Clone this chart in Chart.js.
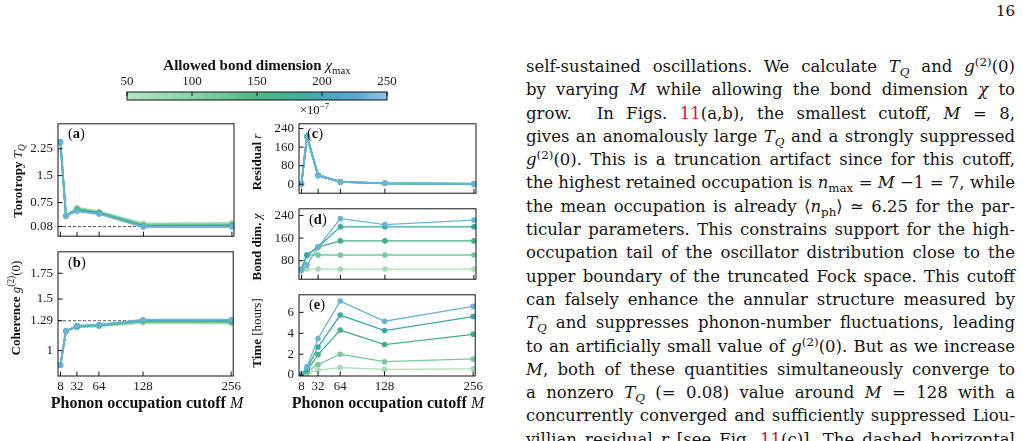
<!DOCTYPE html>
<html>
<head>
<meta charset="utf-8">
<script src="https://cdn.jsdelivr.net/npm/chart.js@4.4.1/dist/chart.umd.min.js"></script>
<style>
html, body { margin: 0; padding: 0; background: #fff; }
body { width: 1023px; height: 441px; position: relative; overflow: hidden;
       font-family: "Liberation Serif", serif; color: #111; }
canvas { position: absolute; }
.lab { position: absolute; white-space: nowrap; line-height: 1; }
.rot { position: absolute; white-space: nowrap; line-height: 1; font-size: 13px;
       transform: translate(-50%, -50%) rotate(-90deg); }
.xt { position: absolute; white-space: nowrap; line-height: 1; font-size: 16px;
      transform: translate(-50%, -50%); }
sub, sup { font-size: 72%; line-height: 0; }
#text { position: absolute; left: 526px; top: 55px; width: 489px;
        font-family: "DejaVu Serif", serif; font-size: 16.5px; color: #141414; }
#text div { height: 23.3px; line-height: 23.3px; white-space: nowrap; }
#text a { color: #c51a4a; text-decoration: none; }
</style>
</head>
<body>

<div class="lab" style="right:8px; top:4px; font-size:15px; font-family:'DejaVu Serif', serif;">16</div>

<canvas id="cbar"></canvas>
<canvas id="pa"></canvas>
<canvas id="pb"></canvas>
<canvas id="pc"></canvas>
<canvas id="pd"></canvas>
<canvas id="pe"></canvas>

<div class="xt" style="left:257px; top:65px; font-size:15px;"><b>Allowed bond dimension</b> <i>χ</i><sub>max</sub></div>
<div class="lab" style="left:300px; top:104px; font-size:12.5px;">×10<sup>−7</sup></div>

<div class="lab" style="left:68px; top:126px; font-size:14.5px;">(<b>a</b>)</div>
<div class="lab" style="left:68px; top:255px; font-size:14.5px;">(<b>b</b>)</div>
<div class="lab" style="left:307px; top:126px; font-size:14.5px;">(<b>c</b>)</div>
<div class="lab" style="left:309px; top:212px; font-size:14.5px;">(<b>d</b>)</div>
<div class="lab" style="left:309px; top:297px; font-size:14.5px;">(<b>e</b>)</div>

<div class="rot" style="left:17px; top:181px;"><b>Torotropy</b> <i>T<sub>Q</sub></i></div>
<div class="rot" style="left:15px; top:308px;"><b>Coherence</b> <i>g</i><sup>(2)</sup>(0)</div>
<div class="rot" style="left:256px; top:162px;"><b>Residual</b> <i>r</i></div>
<div class="rot" style="left:256px; top:247px;"><b>Bond dim.</b> <i>χ</i></div>
<div class="rot" style="left:256px; top:333px;"><b>Time</b> [hours]</div>

<div class="xt" style="left:147px; top:403px;"><b>Phonon occupation cutoff</b> <i>M</i></div>
<div class="xt" style="left:388px; top:403px;"><b>Phonon occupation cutoff</b> <i>M</i></div>

<div id="text">
<div>self-sustained oscillations. We calculate <i>T<sub>Q</sub></i> and <i>g</i><sup>(2)</sup>(0)</div>
<div>by varying <i>M</i> while allowing the bond dimension <i>χ</i> to</div>
<div>grow. &nbsp;In Figs. <a>11</a>(a,b), the smallest cutoff, <i>M</i> = 8,</div>
<div>gives an anomalously large <i>T<sub>Q</sub></i> and a strongly suppressed</div>
<div><i>g</i><sup>(2)</sup>(0). This is a truncation artifact since for this cutoff,</div>
<div>the highest retained occupation is <i>n</i><sub>max</sub> = <i>M</i> −1 = 7, while</div>
<div>the mean occupation is already ⟨<i>n</i><sub>ph</sub>⟩ ≃ 6.25 for the par-</div>
<div>ticular parameters. This constrains support for the high-</div>
<div>occupation tail of the oscillator distribution close to the</div>
<div>upper boundary of the truncated Fock space. This cutoff</div>
<div>can falsely enhance the annular structure measured by</div>
<div><i>T<sub>Q</sub></i> and suppresses phonon-number fluctuations, leading</div>
<div>to an artificially small value of <i>g</i><sup>(2)</sup>(0). But as we increase</div>
<div><i>M</i>, both of these quantities simultaneously converge to</div>
<div>a nonzero <i>T<sub>Q</sub></i> (= 0.08) value around <i>M</i> = 128 with a</div>
<div>concurrently converged and sufficiently suppressed Liou-</div>
<div>villian residual <i>r</i> [see Fig. <a>11</a>(c)]. The dashed horizontal</div>
</div>

<script>
// data; rows are chi_max = 50, 100, 150, 200, 250
const M_VALUES = [8, 16, 32, 64, 128, 256];
const M_TICKS = [8, 32, 64, 128, 256];
const CHI_MAX = [50, 100, 150, 200, 250];

const TQ_VALUES = [
    [2.44, 0.38, 0.61, 0.50, 0.17, 0.18],
    [2.44, 0.38, 0.58, 0.48, 0.13, 0.14],
    [2.44, 0.38, 0.55, 0.46, 0.10, 0.11],
    [2.44, 0.38, 0.52, 0.44, 0.08, 0.08],
    [2.44, 0.38, 0.51, 0.43, 0.07, 0.07],
];
const TQ_TICKS = [0.08, 0.75, 1.5, 2.25];
const TQ_CONVERGED = 0.08;

const G2_VALUES = [
    [0.86, 1.19, 1.225, 1.235, 1.27, 1.265],
    [0.86, 1.19, 1.23, 1.24, 1.28, 1.275],
    [0.86, 1.19, 1.235, 1.245, 1.29, 1.285],
    [0.86, 1.19, 1.24, 1.25, 1.295, 1.295],
    [0.86, 1.19, 1.24, 1.25, 1.30, 1.30],
];
const G2_TICKS = [1, 1.29, 1.5, 1.75];
const G2_CONVERGED = 1.29;

// residual in units of 1e-7
const RES_VALUES = [
    [2, 205, 40, 11, 5, 2],
    [2, 206, 39, 10, 4, 2],
    [2, 206, 38, 10, 4, 1],
    [2, 207, 38, 10, 4, 1],
    [2, 207, 38, 10, 4, 1],
];
const RES_TICKS = [0, 80, 160, 240];

const BOND_VALUES = [
    [48, 50, 50, 50, 50, 50],
    [48, 100, 100, 100, 100, 100],
    [48, 100, 128, 150, 150, 150],
    [48, 100, 128, 200, 200, 200],
    [45, 65, 128, 229, 208, 224],
];
const BOND_TICKS = [80, 160, 240];

const TIME_VALUES = [
    [0.03, 0.15, 0.48, 0.71, 0.54, 0.60],
    [0.04, 0.30, 1.01, 1.99, 1.28, 1.54],
    [0.05, 0.45, 1.96, 4.31, 2.92, 3.90],
    [0.08, 0.60, 2.68, 5.74, 4.26, 5.60],
    [0.10, 0.78, 3.50, 7.08, 5.15, 6.58],
];
const TIME_TICKS = [0, 2, 4, 6];

const SERIES_COLORS = ["#a6dcb9", "#74ca99", "#41b181", "#39a7ae", "#68b3db"];
const CMAP_STOPS = [
    [0, "#b4e4c6"], [0.25, "#88d3a7"], [0.5, "#4fb986"], [0.62, "#43b198"],
    [0.75, "#44a9b8"], [0.88, "#58a8d6"], [1, "#90c6e3"],
];

const FONT = { family: "Liberation Serif", size: 13 };
const TICK_LEN = 4.5;
const YW = 40, PAD_T = 8, PAD_R = 10, XH = 24;

// justify each text line by spreading its spaces
const TEXT_WIDTH = 489;
document.querySelectorAll("#text div").forEach(div => {
    const span = document.createElement("span");
    span.innerHTML = div.innerHTML;
    div.innerHTML = "";
    div.appendChild(span);
    const w = span.getBoundingClientRect().width;
    const gaps = (span.textContent.match(/[ \u00a0]/g) || []).length;
    if (gaps) div.style.wordSpacing = ((TEXT_WIDTH - w) / gaps) + "px";
});

const axesFrame = {
    id: "axesFrame",
    beforeDatasetsDraw(chart, args, o) {
        if (o.ref === undefined) return;
        const { ctx, chartArea: a } = chart;
        const y = chart.scales.y.getPixelForValue(o.ref);
        ctx.save();
        ctx.strokeStyle = "#333";
        ctx.lineWidth = 0.8;
        ctx.setLineDash([3, 2]);
        ctx.beginPath();
        ctx.moveTo(a.left, y);
        ctx.lineTo(a.right, y);
        ctx.stroke();
        ctx.restore();
    },
    afterDatasetsDraw(chart, args, o) {
        if (!o.xTicks) return;
        const { ctx, chartArea: a } = chart;
        ctx.save();
        ctx.strokeStyle = "#111";
        ctx.lineWidth = 1;
        ctx.strokeRect(a.left, a.top, a.right - a.left, a.bottom - a.top);
        ctx.beginPath();
        o.xTicks.forEach(v => {
            const x = chart.scales.x.getPixelForValue(v);
            ctx.moveTo(x, a.bottom);
            ctx.lineTo(x, a.bottom - TICK_LEN);
        });
        o.yTicks.forEach(v => {
            const y = chart.scales.y.getPixelForValue(v);
            ctx.moveTo(a.left, y);
            ctx.lineTo(a.left + TICK_LEN, y);
        });
        ctx.stroke();
        ctx.restore();
    },
};
Chart.register(axesFrame);

function panel(id, rows, p) {
    const el = document.getElementById(id);
    const bottom = p.xLabels ? XH : 2;
    el.width = (p.R - p.L) + YW + PAD_R;
    el.height = (p.B - p.T) + PAD_T + bottom;
    el.style.left = (p.L - YW) + "px";
    el.style.top = (p.T - PAD_T) + "px";

    const datasets = rows.map((vals, i) => ({
        label: "chi_max = " + CHI_MAX[i],
        data: M_VALUES.map((m, j) => ({ x: m, y: vals[j] })),
        borderColor: SERIES_COLORS[i],
        backgroundColor: SERIES_COLORS[i],
        pointBackgroundColor: SERIES_COLORS[i],
        borderWidth: p.lw,
        pointRadius: 2.8,
        pointBorderWidth: 0,
        tension: 0,
    })).reverse();

    new Chart(el, {
        type: "line",
        data: { datasets },
        options: {
            responsive: false,
            animation: false,
            events: [],
            layout: { autoPadding: false, padding: { top: PAD_T, right: PAD_R, left: 0, bottom: p.xLabels ? 0 : 2 } },
            plugins: {
                legend: { display: false },
                tooltip: { enabled: false },
                axesFrame: { xTicks: M_TICKS, yTicks: p.yTicks, ref: p.ref },
            },
            scales: {
                x: {
                    type: "linear", min: 4.5, max: 259,
                    grid: { display: false, drawTicks: false },
                    border: { display: false },
                    afterBuildTicks: s => { s.ticks = M_TICKS.map(v => ({ value: v })); },
                    afterFit: s => { s.height = p.xLabels ? XH : 0; },
                    ticks: { display: !!p.xLabels, font: FONT, color: "#1a1a1a", padding: 3,
                             maxRotation: 0, autoSkip: false, callback: v => String(v) },
                },
                y: {
                    type: "linear", min: p.min, max: p.max,
                    grid: { display: false, drawTicks: false },
                    border: { display: false },
                    afterBuildTicks: s => { s.ticks = p.yTicks.map(v => ({ value: v })); },
                    afterFit: s => { s.width = YW; },
                    ticks: { font: FONT, color: "#1a1a1a", padding: 5, autoSkip: false,
                             callback: v => String(v) },
                },
            },
        },
    });
}

const LEFT = { L: 58, R: 234 };
const RIGHT = { L: 299, R: 476 };

panel("pa", TQ_VALUES, { ...LEFT, T: 119, B: 247, min: -0.19, max: 2.947, yTicks: TQ_TICKS, ref: TQ_CONVERGED, lw: 1.8 });
panel("pb", G2_VALUES, { ...LEFT, T: 247, B: 376, min: 0.754, max: 1.958, yTicks: G2_TICKS, ref: G2_CONVERGED, lw: 1.8, xLabels: true });
panel("pc", RES_VALUES, { ...RIGHT, T: 119, B: 204, min: -38.7, max: 260.6, yTicks: RES_TICKS, lw: 1.8 });
panel("pd", BOND_VALUES, { ...RIGHT, T: 204, B: 290, min: 14, max: 264, yTicks: BOND_TICKS, lw: 1.3 });
panel("pe", TIME_VALUES, { ...RIGHT, T: 290, B: 376, min: -0.09, max: 7.68, yTicks: TIME_TICKS, lw: 1.3, xLabels: true });

// colorbar
const colorbar = {
    id: "colorbar",
    afterDraw(chart) {
        const { ctx, chartArea: a } = chart;
        const g = ctx.createLinearGradient(a.left, 0, a.right, 0);
        CMAP_STOPS.forEach(([t, c]) => g.addColorStop(t, c));
        ctx.save();
        ctx.fillStyle = g;
        ctx.fillRect(a.left, a.top, a.right - a.left, a.bottom - a.top);
        ctx.strokeStyle = "#111";
        ctx.lineWidth = 1;
        ctx.strokeRect(a.left, a.top, a.right - a.left, a.bottom - a.top);
        ctx.beginPath();
        CHI_MAX.forEach(v => {
            const x = chart.scales.x.getPixelForValue(v);
            ctx.moveTo(x, a.top);
            ctx.lineTo(x, a.top + 4);
        });
        ctx.stroke();
        ctx.restore();
    },
};

(function () {
    const el = document.getElementById("cbar");
    el.width = 290; el.height = 30;
    el.style.left = "110px"; el.style.top = "72px";
    new Chart(el, {
        type: "scatter",
        data: { datasets: [] },
        plugins: [colorbar],
        options: {
            responsive: false,
            animation: false,
            events: [],
            layout: { autoPadding: false, padding: { left: 17, right: 13, top: 0, bottom: 2 } },
            plugins: { legend: { display: false }, tooltip: { enabled: false } },
            scales: {
                x: {
                    type: "linear", position: "top", min: 50, max: 250,
                    grid: { display: false, drawTicks: false },
                    border: { display: false },
                    afterBuildTicks: s => { s.ticks = CHI_MAX.map(v => ({ value: v })); },
                    afterFit: s => { s.height = 20; },
                    ticks: { font: FONT, color: "#1a1a1a", padding: 3, maxRotation: 0, autoSkip: false,
                             callback: v => String(v) },
                },
                y: { display: false, min: 0, max: 1, afterFit: s => { s.width = 0; } },
            },
        },
    });
})();
</script>
</body>
</html>
